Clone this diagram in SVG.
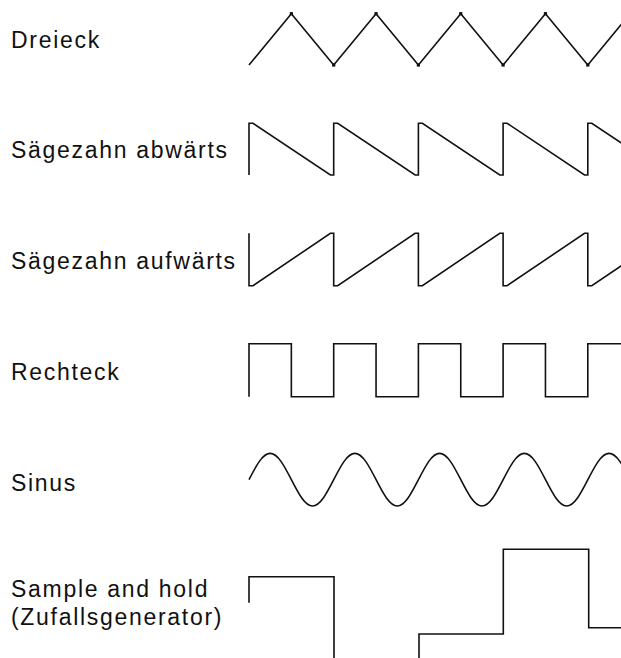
<svg xmlns="http://www.w3.org/2000/svg" xmlns:xlink="http://www.w3.org/1999/xlink" width="621" height="658" viewBox="0 0 621 658">
  <style>
    .label { font-family: "Liberation Sans", Arial, sans-serif; font-size: 23px; letter-spacing: 1.7px; fill: #111; }
    .wave { fill: none; stroke: #111; stroke-width: 1.6; stroke-linejoin: miter; }
  </style>
  <defs>
    <!-- small square marking a triangle vertex -->
    <rect id="vtx" x="-1.6" y="-1.6" width="3.2" height="3.2" fill="#111"/>
  </defs>
  <rect width="621" height="658" fill="#fff"/>

  <!-- triangle wave -->
  <g id="dreieck">
    <text class="label" x="11" y="47.5">Dreieck</text>
    <path class="wave" d="M249,65 l42.35,-51.3 42.35,51.3 42.35,-51.3 42.35,51.3 42.35,-51.3 42.35,51.3 42.35,-51.3 42.35,51.3 42.35,-51.3"/>
    <use xlink:href="#vtx" x="291.35" y="13.7"/>
    <use xlink:href="#vtx" x="376.05" y="13.7"/>
    <use xlink:href="#vtx" x="460.75" y="13.7"/>
    <use xlink:href="#vtx" x="545.45" y="13.7"/>
    <use xlink:href="#vtx" x="333.7" y="65"/>
    <use xlink:href="#vtx" x="418.4" y="65"/>
    <use xlink:href="#vtx" x="503.1" y="65"/>
    <use xlink:href="#vtx" x="587.8" y="65"/>
  </g>

  <!-- falling sawtooth -->
  <g id="saegezahn-abwaerts">
    <text class="label" x="11" y="158.3">Sägezahn abwärts</text>
    <path class="wave" d="M249,175 v-51.7
      h4 l77.4,51.7 h3.3 v-51.7
      h4 l77.4,51.7 h3.3 v-51.7
      h4 l77.4,51.7 h3.3 v-51.7
      h4 l77.4,51.7 h3.3 v-51.7
      h4 l77.4,51.7 h3.3 v-51.7"/>
  </g>

  <!-- rising sawtooth -->
  <g id="saegezahn-aufwaerts">
    <text class="label" x="11" y="269.2">Sägezahn aufwärts</text>
    <path class="wave" d="M249,233.3 v52.4
      h4 l77.4,-52.4 h3.3 v52.4
      h4 l77.4,-52.4 h3.3 v52.4
      h4 l77.4,-52.4 h3.3 v52.4
      h4 l77.4,-52.4 h3.3 v52.4
      h4 l77.4,-52.4 h3.3 v52.4"/>
  </g>

  <!-- square wave -->
  <g id="rechteck">
    <text class="label" x="11" y="380">Rechteck</text>
    <path class="wave" d="M249,396.7 V343.7
      h42.35 v53 h42.35 v-53
      h42.35 v53 h42.35 v-53
      h42.35 v53 h42.35 v-53
      h42.35 v53 h42.35 v-53
      h42.35 v53 h42.35 v-53"/>
  </g>

  <!-- sine wave, one cubic per quarter period -->
  <g id="sinus">
    <text class="label" x="11" y="490.8">Sinus</text>
    <path class="wave" d="M249,479.7
      c7.08,-13.81 13.55,-26.3 21.18,-26.3 c7.62,0 14.1,12.49 21.18,26.3 c7.08,13.81 13.55,26.3 21.18,26.3 c7.62,0 14.1,-12.49 21.18,-26.3
      c7.08,-13.81 13.55,-26.3 21.18,-26.3 c7.62,0 14.1,12.49 21.18,26.3 c7.08,13.81 13.55,26.3 21.18,26.3 c7.62,0 14.1,-12.49 21.18,-26.3
      c7.08,-13.81 13.55,-26.3 21.18,-26.3 c7.62,0 14.1,12.49 21.18,26.3 c7.08,13.81 13.55,26.3 21.18,26.3 c7.62,0 14.1,-12.49 21.18,-26.3
      c7.08,-13.81 13.55,-26.3 21.18,-26.3 c7.62,0 14.1,12.49 21.18,26.3 c7.08,13.81 13.55,26.3 21.18,26.3 c7.62,0 14.1,-12.49 21.18,-26.3
      c7.08,-13.81 13.55,-26.3 21.18,-26.3 c7.62,0 14.1,12.49 21.18,26.3"/>
  </g>

  <!-- sample and hold steps -->
  <g id="sample-and-hold">
    <text class="label" x="11" y="597.3">Sample and hold</text>
    <text class="label" x="11" y="624.9">(Zufallsgenerator)</text>
    <path class="wave" d="M249,602.7 V576.7 H334 V662"/>
    <path class="wave" d="M419,662 V634 H503.3 V549.3 H588.7 V627.7 H625"/>
  </g>
</svg>
